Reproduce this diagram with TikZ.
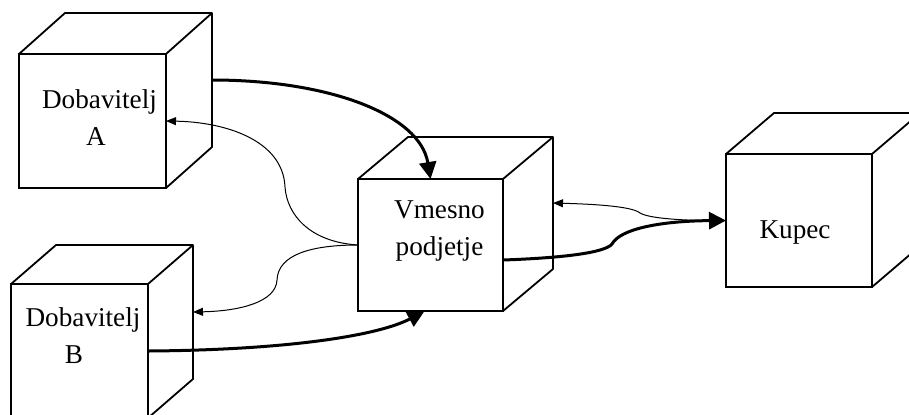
\documentclass[tikz,border=0pt]{standalone}
\usepackage{fontspec}
\setmainfont{Liberation Serif}
\usetikzlibrary{positioning,arrows.meta}

\tikzset{
  spredaj/.style={draw, line width=1.4pt, inner sep=0pt, outer sep=0pt},
  zadaj/.style={inner sep=0pt, outer sep=0pt},
  rob/.style={line width=0.9pt, line join=round},
  naziv/.style={align=center, inner sep=0pt, font=\fontsize{13.6}{18.5}\selectfont},
  tok/.style={line width=1.5pt, -{Triangle[length=8.5pt,width=8.5pt]}},
  povratno/.style={line width=0.5pt, -{Triangle[length=5pt,width=4pt]}},
}

\begin{document}
\begin{tikzpicture}[x=0.5pt, y=-0.5pt]
  \clip (0,0) rectangle (909,414);

  % front faces of the four boxes
  \node[spredaj, minimum width=73.5pt, minimum height=67pt] (dobA) at (92.5,121) {};
  \node[spredaj, minimum width=68.5pt, minimum height=67pt] (dobB) at (79.5,351) {};
  \node[spredaj, minimum width=72.5pt, minimum height=66pt] (vm) at (430.5,245) {};
  \node[spredaj, minimum width=73pt, minimum height=66.5pt] (ku) at (799,220.5) {};

  % back faces, shifted up and to the right
  \node[zadaj, minimum width=73.5pt, minimum height=67pt] (dobA-z) at ([shift={(46,-41)}]dobA.center) {};
  \node[zadaj, minimum width=68.5pt, minimum height=67pt] (dobB-z) at ([shift={(45,-39)}]dobB.center) {};
  \node[zadaj, minimum width=72.5pt, minimum height=66pt] (vm-z) at ([shift={(50,-42)}]vm.center) {};
  \node[zadaj, minimum width=73pt, minimum height=66.5pt] (ku-z) at ([shift={(48,-41)}]ku.center) {};

  % the visible back edges of every box
  \foreach \k in {dobA,dobB,vm,ku} {
    \draw[rob] (\k.north west) -- (\k-z.north west) -- (\k-z.north east)
      -- (\k-z.south east) -- (\k.south east);
    \draw[rob] (\k.north east) -- (\k-z.north east);
  }

  % texts (base is the baseline of the last line)
  \node[naziv, anchor=base] (tA) at (99.5,145) {Dobavitelj\\A\hspace*{3.5pt}};
  \node[naziv, anchor=base] (tB) at (83,363) {Dobavitelj\\B\hspace*{9pt}};
  \node[naziv, anchor=base] (tV) at (439.5,255) {Vmesno\\podjetje};
  \node[naziv, anchor=base] (tK) at (795,238) {Kupec};

  % flows towards the middle company
  \draw[tok] (dobA-z.east) .. controls (330,80) and (420,115) .. (vm.north);
  \draw[tok] (dobB.east) .. controls (290,350) and (380,335) .. ([xshift=-3pt]vm.south);
  \draw[tok] ([yshift=-7.5pt]vm.east) .. controls (560,258) and (605,253) .. (612,244)
    .. controls (620,229) and (660,221) .. (ku.west);

  % thin return lines
  \draw[povratno] (vm.west) .. controls (310,242) and (287,215) .. (285,187)
    .. controls (283,140) and (225,122) .. (dobA.east);
  \draw[povratno] (vm.west) .. controls (310,245) and (278,255) .. (277,280)
    .. controls (276,302) and (240,311) .. (dobB-z.east);
  \draw[povratno] (ku.west) .. controls (680,221) and (648,218) .. (640,213)
    .. controls (632,206) and (590,204) .. (vm-z.east);
\end{tikzpicture}
\end{document}
